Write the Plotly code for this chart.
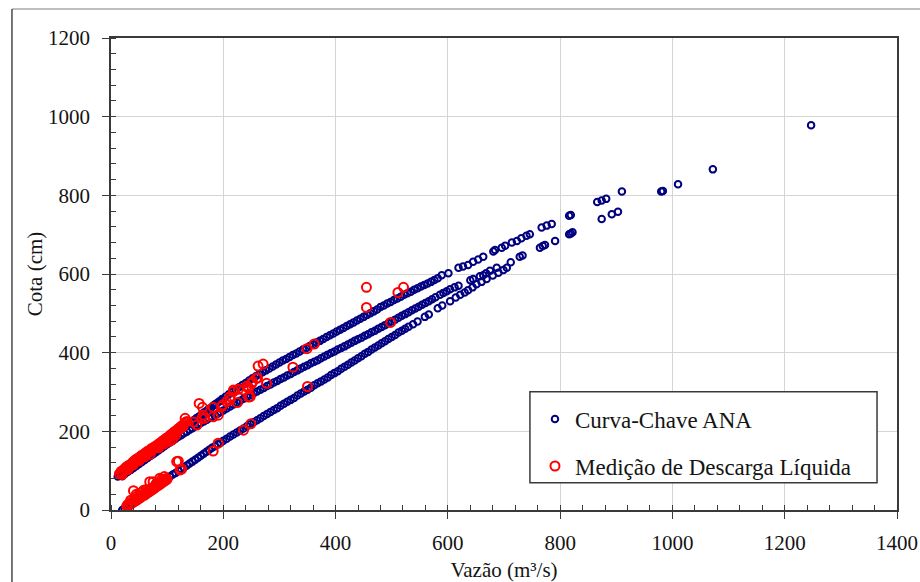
import plotly.graph_objects as go

# Curva-chave ANA: upper branch (vazão m³/s, cota cm)
ana_q_upper = [12, 15, 18, 22, 25, 28, 32, 35, 38, 42, 45, 48, 52, 55, 58, 62, 65, 68, 72, 75,
               78, 82, 85, 88, 92, 95, 98, 102, 105, 108, 112, 115, 118, 122, 125, 128, 132, 135,
               138, 142, 145, 148, 152, 155, 158, 162, 165, 168, 172, 175, 178, 182, 185, 188,
               192, 195, 198, 204, 210, 216, 222, 228, 234, 240, 246, 252, 258, 264, 270, 276,
               282, 288, 294, 300, 306, 312, 318, 324, 330, 336, 342, 348, 354, 360, 366, 372,
               378, 384, 390, 396, 402, 408, 414, 420, 426, 432, 438, 444, 450, 456, 462, 468,
               474, 480, 486, 492, 498, 504, 510, 516, 522, 528, 534, 540, 546, 552, 558, 564,
               570, 576, 582, 589, 601, 619, 627, 636, 645, 654, 663, 681, 684, 696, 702, 714,
               723, 731, 740, 746, 767, 776, 785, 816, 819, 866, 874, 882, 910, 980, 983, 1010,
               1072, 1247]
ana_h_upper = [85, 89, 93, 98, 101, 105, 110, 113, 117, 121, 124, 128, 132, 135, 138, 142, 145,
               148, 152, 156, 159, 163, 166, 169, 173, 176, 179, 183, 186, 189, 193, 196, 199,
               203, 206, 209, 213, 216, 219, 223, 226, 229, 233, 236, 239, 244, 247, 250, 254,
               257, 260, 265, 268, 271, 275, 278, 282, 288, 294, 300, 306, 312, 318, 323, 329,
               335, 340, 345, 350, 355, 360, 365, 370, 375, 380, 384, 389, 394, 398, 403, 408,
               412, 417, 421, 426, 430, 435, 440, 444, 449, 454, 458, 463, 468, 472, 477, 482,
               486, 491, 496, 500, 505, 510, 516, 520, 525, 529, 534, 538, 542, 547, 551, 555,
               560, 564, 568, 572, 576, 580, 585, 589, 597, 602, 616, 619, 623, 631, 637, 644,
               657, 661, 667, 672, 680, 684, 691, 697, 701, 718, 723, 727, 748, 750, 783, 787,
               791, 810, 810, 811, 828, 866, 978]

# Curva-chave ANA: middle branch
ana_q_mid = [20, 25, 30, 35, 40, 45, 50, 55, 60, 65, 70, 75, 80, 85, 90, 95, 100, 105, 110, 115,
             120, 125, 130, 135, 140, 145, 150, 155, 160, 165, 170, 175, 180, 185, 190, 195, 200,
             206, 212, 218, 224, 230, 236, 242, 248, 254, 260, 266, 272, 278, 284, 290, 296, 302,
             308, 314, 320, 326, 332, 338, 344, 350, 356, 362, 368, 374, 380, 386, 392, 398, 404,
             410, 416, 422, 428, 434, 440, 446, 452, 458, 464, 470, 476, 482, 488, 494, 500, 506,
             512, 518, 524, 530, 536, 542, 548, 554, 560, 566, 572, 578, 586, 592, 598, 604, 612,
             619, 640, 645, 657, 663, 668, 675, 687, 705, 712, 728, 733, 764, 769, 773, 791, 816,
             819, 822, 874, 892, 903]
ana_h_mid = [86, 92, 97, 102, 107, 112, 117, 122, 127, 132, 137, 142, 147, 152, 157, 162, 167,
             172, 176, 181, 186, 190, 195, 199, 204, 208, 213, 217, 221, 225, 229, 233, 237, 241,
             245, 249, 253, 258, 263, 268, 273, 278, 283, 287, 292, 297, 301, 306, 310, 315, 319,
             324, 328, 333, 337, 342, 346, 351, 355, 360, 364, 368, 373, 377, 381, 386, 390, 395,
             399, 403, 408, 412, 416, 421, 425, 430, 434, 438, 443, 447, 452, 456, 461, 465, 470,
             475, 479, 484, 489, 494, 498, 503, 508, 512, 517, 522, 526, 531, 536, 541, 547, 552,
             556, 561, 566, 570, 584, 587, 594, 597, 602, 608, 616, 616, 630, 644, 647, 667, 671,
             674, 684, 701, 703, 706, 740, 752, 758]

# Curva-chave ANA: lower branch
ana_q_low = [20, 24, 28, 32, 36, 40, 44, 48, 52, 56, 60, 64, 68, 72, 76, 80, 84, 88, 92, 96, 100,
             105, 110, 115, 120, 125, 130, 135, 140, 145, 150, 155, 160, 165, 170, 175, 180, 185,
             190, 195, 200, 206, 212, 218, 224, 230, 236, 242, 248, 254, 260, 266, 272, 278, 284,
             290, 296, 302, 308, 314, 320, 326, 332, 338, 344, 350, 356, 362, 368, 374, 380, 386,
             392, 398, 404, 410, 416, 422, 428, 434, 440, 446, 452, 458, 464, 470, 476, 482, 488,
             494, 500, 506, 512, 518, 524, 530, 538, 546, 559, 566, 582, 590, 604, 614, 622, 630,
             636, 644, 651, 660, 669, 680, 690, 699]
ana_h_low = [0, 4, 8, 12, 16, 20, 24, 28, 32, 36, 40, 44, 48, 52, 56, 60, 64, 68, 72, 76, 80, 85,
             90, 94, 99, 104, 108, 113, 118, 123, 128, 133, 138, 143, 148, 153, 158, 162, 167, 171,
             176, 181, 187, 192, 197, 202, 207, 213, 218, 223, 228, 233, 239, 244, 249, 254, 259,
             265, 270, 275, 280, 285, 291, 296, 301, 306, 311, 317, 322, 327, 332, 337, 343, 348,
             353, 359, 364, 369, 375, 380, 386, 391, 397, 402, 408, 413, 418, 424, 429, 435, 440,
             445, 451, 456, 461, 466, 472, 479, 491, 497, 513, 520, 531, 540, 547, 553, 559, 566,
             574, 580, 587, 596, 603, 610]

# Medição de descarga líquida (vazão m³/s, cota cm)
med_q = [15, 18, 20, 22, 24, 25, 27, 28, 30, 31, 33, 35, 36, 38, 39, 40, 42, 43, 45, 46, 48, 50,
         51, 53, 55, 56, 58, 60, 61, 63, 65, 66, 68, 70, 72, 73, 75, 77, 78, 80, 82, 84, 85, 87,
         88, 90, 92, 93, 95, 97, 98, 100, 102, 104, 105, 107, 108, 110, 112, 113, 115, 117, 118,
         120, 122, 124, 125, 127, 130, 132, 135, 105, 110, 95, 85, 70, 60, 50, 40, 30, 20, 128,
         115, 100,
         28, 30, 32, 34, 36, 38, 40, 42, 44, 46, 48, 50, 52, 54, 56, 58, 60, 62, 64, 66, 68, 70,
         72, 74, 76, 78, 80, 82, 84, 86, 88, 90, 92, 94, 96, 98, 100, 40, 47, 55, 63, 69, 75, 80,
         87, 90, 95, 117, 120, 123, 126, 45, 52, 58, 35,
         455, 455, 511, 521, 498, 349, 362, 324, 350, 236, 249, 182, 191, 262, 271, 277, 261, 252,
         245, 245, 242, 227, 218, 225, 212, 199, 197, 182, 182, 191, 157, 163, 147, 153, 132, 206,
         212, 218, 236, 245, 248, 251, 259, 162, 167, 164]
med_h = [92, 98, 95, 102, 100, 106, 104, 110, 108, 113, 112, 116, 113, 120, 117, 123, 121, 127,
         125, 130, 128, 133, 131, 137, 135, 140, 138, 143, 141, 147, 145, 150, 148, 153, 151, 157,
         155, 160, 158, 163, 161, 167, 165, 170, 168, 173, 171, 177, 176, 181, 178, 184, 182, 188,
         186, 192, 190, 195, 193, 199, 198, 203, 201, 207, 205, 211, 209, 215, 218, 222, 225, 175,
         180, 168, 158, 142, 135, 125, 115, 103, 90, 212, 190, 176,
         10, 14, 12, 18, 16, 22, 20, 25, 23, 29, 27, 33, 31, 37, 35, 40, 38, 44, 42, 48, 46, 52, 50,
         56, 54, 60, 58, 64, 62, 68, 66, 72, 70, 76, 74, 80, 78, 49, 36, 45, 52, 72, 72, 66, 81, 78,
         85, 123, 124, 102, 104, 40, 43, 50, 25,
         515, 566, 553, 566, 477, 410, 422, 363, 314, 203, 219, 150, 170, 366, 371, 322, 335, 326,
         312, 287, 315, 307, 305, 273, 280, 267, 263, 261, 237, 241, 271, 261, 224, 216, 233, 275,
         288, 301, 305, 309, 288, 322, 335, 233, 233, 241]

x_ticks = [0, 200, 400, 600, 800, 1000, 1200, 1400]
y_ticks = [0, 200, 400, 600, 800, 1000, 1200]

SERIF = "Liberation Serif, Times New Roman, serif"
NAVY = "#000080"
INK = "#141414"

ana_q = ana_q_upper + ana_q_mid + ana_q_low
ana_h = ana_h_upper + ana_h_mid + ana_h_low

fig = go.Figure()
fig.add_trace(go.Scatter(
    x=ana_q, y=ana_h, mode="markers", name="Curva-Chave ANA", legendgroup="ana",
    marker=dict(symbol="circle-open", size=6.5, color=NAVY, line=dict(width=2, color=NAVY)),
))
fig.add_trace(go.Scatter(
    x=med_q, y=med_h, mode="markers", name="Medição de Descarga Líquida", legendgroup="med",
    marker=dict(symbol="circle-open", size=9, color="#ff0000", line=dict(width=2, color="#ff0000")),
))

axis_common = dict(
    showgrid=True, gridcolor="#d4d4d4", gridwidth=1,
    showline=True, linecolor="#3a3a3a", linewidth=1.5, mirror=True,
    ticks="outside", ticklen=7, tickwidth=1.3, tickcolor="#3a3a3a",
    tickfont=dict(family=SERIF, size=21, color=INK),
    zeroline=False, automargin=False,
    minor=dict(ticks="inside", ticklen=5, tickwidth=1.1, tickcolor="#3a3a3a", dtick=40, showgrid=False),
)

fig.update_xaxes(
    range=[0, 1400], tickvals=x_ticks, ticktext=[str(v) for v in x_ticks],
    title=dict(text="Vazão (m³/s)", font=dict(family=SERIF, size=21, color=INK), standoff=8),
    ticklabelstandoff=6,
    **axis_common,
)
fig.update_yaxes(
    range=[0, 1200], tickvals=y_ticks, ticktext=[str(v) for v in y_ticks],
    title=dict(text="Cota (cm)", font=dict(family=SERIF, size=21, color=INK), standoff=0),
    ticklabelstandoff=8,
    **axis_common,
)

# outer chart frame and legend box
fig.add_shape(type="line", xref="paper", yref="paper", x0=-0.126, x1=1.04, y0=1.0614, y1=1.0614,
              line=dict(color="#a8a8a8", width=1.5))
fig.add_shape(type="line", xref="paper", yref="paper", x0=-0.126, x1=-0.126, y0=-0.16, y1=1.0614,
              line=dict(color="#4a4a4a", width=1.5))
fig.add_shape(type="rect", xref="paper", yref="paper", x0=0.533, x1=0.9746, y0=0.0578, y1=0.2506,
              line=dict(color="#3a3a3a", width=1.5), fillcolor="white", layer="above")

fig.update_layout(
    width=920, height=582,
    margin=dict(l=111, r=23, t=38, b=72),
    paper_bgcolor="white", plot_bgcolor="white",
    font=dict(family=SERIF, color=INK),
    showlegend=True,
    legend=dict(
        x=0.5394, y=0.238, xanchor="left", yanchor="top",
        bgcolor="rgba(0,0,0,0)", borderwidth=0,
        font=dict(family=SERIF, size=23, color=INK),
        tracegroupgap=14,
    ),
)

fig.write_html("out.html")
